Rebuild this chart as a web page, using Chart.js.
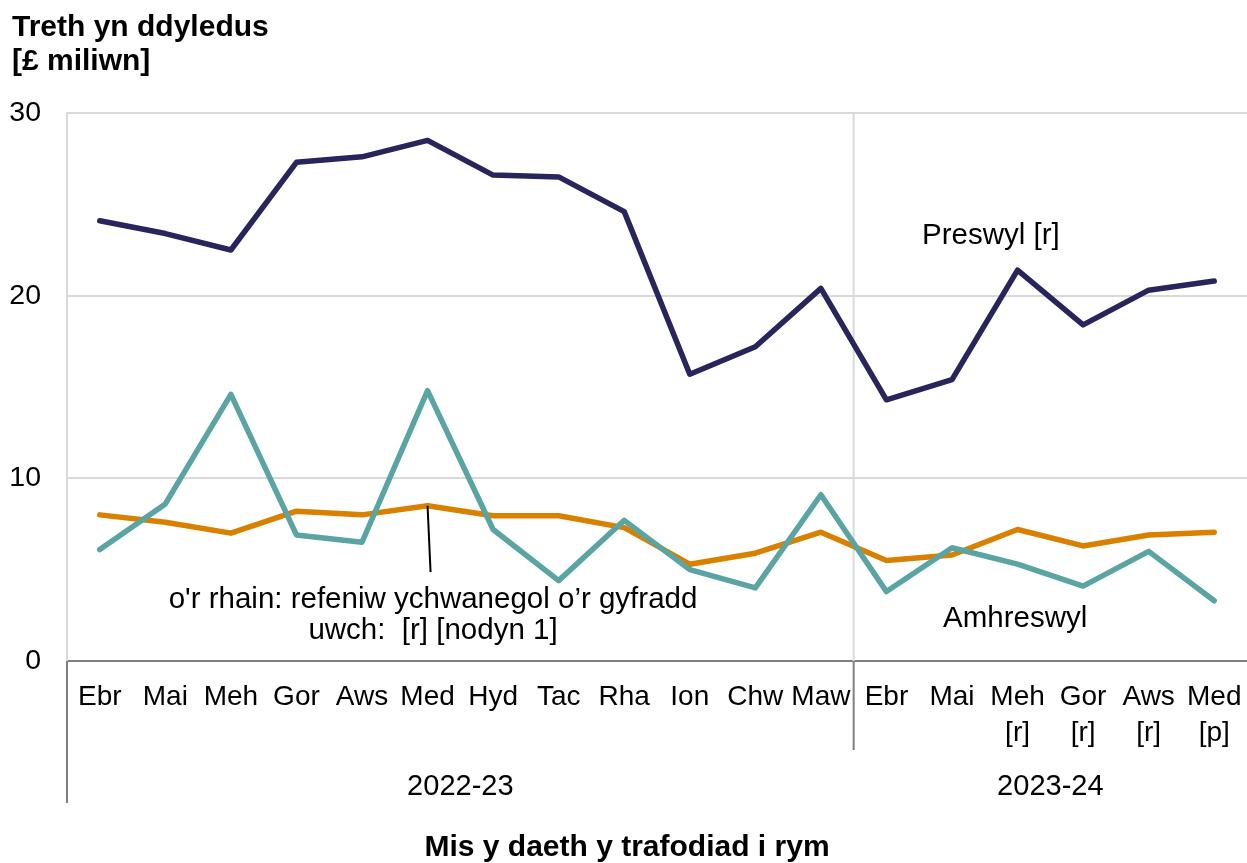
<!DOCTYPE html>
<html>
<head>
<meta charset="utf-8">
<script src="https://cdn.jsdelivr.net/npm/chart.js@4.4.1/dist/chart.umd.min.js"></script>
<style>
  html, body { margin: 0; padding: 0; background: #fff; }
  #wrap { width: 1247px; height: 863px; position: relative; }
</style>
</head>
<body>
<div id="wrap"><canvas id="chart"></canvas></div>
<script>
// Treth yn ddyledus - fesul mis
const months = ['Ebr', 'Mai', 'Meh', 'Gor', 'Aws', 'Med', 'Hyd', 'Tac', 'Rha', 'Ion', 'Chw', 'Maw',
    'Ebr', 'Mai', ['Meh', '[r]'], ['Gor', '[r]'], ['Aws', '[r]'], ['Med', '[p]']];
const years = ['2022-23', '2023-24'];
const yTicks = [0, 10, 20, 30];

const preswyl = [24.1, 23.4, 22.5, 27.3, 27.6, 28.5, 26.6, 26.5, 24.6, 15.7, 17.2, 20.4,
    14.3, 15.4, 21.4, 18.4, 20.3, 20.8];
const amhreswyl = [6.1, 8.6, 14.6, 6.9, 6.5, 14.8, 7.2, 4.4, 7.7, 5.0, 4.0, 9.1,
    3.8, 6.2, 5.3, 4.1, 6.0, 3.3];
const refeniw = [8.0, 7.6, 7.0, 8.2, 8.0, 8.5, 7.95, 7.95, 7.3, 5.3, 5.9, 7.05,
    5.5, 5.8, 7.2, 6.3, 6.9, 7.05];

const FONT = "'Liberation Sans', Arial, sans-serif";

// Llinellau a thestun ychwanegol
const extras = {
    id: 'extras',
    beforeDatasetsDraw(chart) {
        const { ctx, chartArea } = chart;
        const x = chart.scales.x;
        const split = (x.getPixelForValue(11) + x.getPixelForValue(12)) / 2;
        ctx.save();
        ctx.strokeStyle = '#d9d9d9';
        ctx.lineWidth = 2;
        ctx.beginPath();
        ctx.moveTo(split, chartArea.top);
        ctx.lineTo(split, chartArea.bottom);
        ctx.stroke();
        ctx.restore();
    },
    afterDraw(chart) {
        const { ctx, chartArea } = chart;
        const x = chart.scales.x;
        const y = chart.scales.y;
        const split = (x.getPixelForValue(11) + x.getPixelForValue(12)) / 2;

        ctx.save();
        // llinellau'r echel isod
        ctx.strokeStyle = '#7f7f7f';
        ctx.lineWidth = 2;
        ctx.beginPath();
        ctx.moveTo(chartArea.left, chartArea.bottom);
        ctx.lineTo(chartArea.left, 803);
        ctx.moveTo(split, chartArea.bottom);
        ctx.lineTo(split, 750);
        ctx.stroke();

        // blynyddoedd
        ctx.fillStyle = '#000';
        ctx.font = '29px ' + FONT;
        ctx.textAlign = 'center';
        ctx.textBaseline = 'middle';
        const bounds = [chartArea.left, split, chartArea.right];
        years.forEach((yr, i) => {
            ctx.fillText(yr, (bounds[i] + bounds[i + 1]) / 2, 787);
        });

        // teitl echel x
        ctx.font = 'bold 30px ' + FONT;
        ctx.fillText('Mis y daeth y trafodiad i rym', 627, 848);

        // teitl echel y
        ctx.textAlign = 'left';
        ctx.textBaseline = 'alphabetic';
        ctx.fillText('Treth yn ddyledus', 12, 36);
        ctx.fillText('[£ miliwn]', 12, 70);

        // labeli'r llinellau
        ctx.font = '29.5px ' + FONT;
        ctx.fillText('Preswyl [r]', 922, 244);
        ctx.fillText('Amhreswyl', 943, 627);
        ctx.textAlign = 'center';
        ctx.fillText('o\'r rhain: refeniw ychwanegol o’r gyfradd', 433, 608);
        ctx.fillText('uwch:  [r] [nodyn 1]', 433, 639);

        // llinell arwain
        ctx.strokeStyle = '#000';
        ctx.lineWidth = 2;
        ctx.beginPath();
        ctx.moveTo(x.getPixelForValue(5), y.getPixelForValue(refeniw[5]));
        ctx.lineTo(x.getPixelForValue(5) + 3, 572);
        ctx.stroke();
        ctx.restore();
    }
};

const lineStyle = {
    borderWidth: 5.5,
    pointRadius: 0,
    pointHoverRadius: 0,
    borderCapStyle: 'round',
    borderJoinStyle: 'round',
    tension: 0
};

new Chart(document.getElementById('chart'), {
    type: 'line',
    data: {
        labels: months,
        datasets: [
            { label: 'Preswyl [r]', data: preswyl, borderColor: '#28245c', ...lineStyle },
            { label: 'Amhreswyl', data: amhreswyl, borderColor: '#5aa4a3', ...lineStyle },
            { label: 'o\'r rhain: refeniw ychwanegol', data: refeniw, borderColor: '#d98000', ...lineStyle }
        ]
    },
    options: {
        responsive: true,
        maintainAspectRatio: false,
        animation: false,
        layout: { padding: { top: 113, left: 0, right: 0, bottom: 0 } },
        plugins: {
            legend: { display: false },
            tooltip: { enabled: false }
        },
        scales: {
            x: {
                offset: true,
                grid: { display: false, drawTicks: false },
                border: { display: false },
                ticks: {
                    color: '#000',
                    font: { family: FONT, size: 28, lineHeight: 1.29 },
                    padding: 18,
                    maxRotation: 0,
                    autoSkip: false
                },
                afterFit(s) {
                    s.height = 202;
                    s.paddingLeft = 0;
                    s.paddingRight = 0;
                }
            },
            y: {
                min: 0,
                max: 30,
                afterBuildTicks(s) {
                    s.ticks = yTicks.map(v => ({ value: v }));
                },
                grid: {
                    drawTicks: false,
                    color: c => c.tick && c.tick.value === 0 ? '#7f7f7f' : '#d9d9d9',
                    lineWidth: 2
                },
                border: { display: true, color: '#d9d9d9', width: 2 },
                ticks: {
                    color: '#000',
                    font: { family: FONT, size: 28.5 },
                    padding: 26
                },
                afterFit(s) {
                    s.width = 67;
                }
            }
        }
    },
    plugins: [extras]
});
</script>
</body>
</html>
